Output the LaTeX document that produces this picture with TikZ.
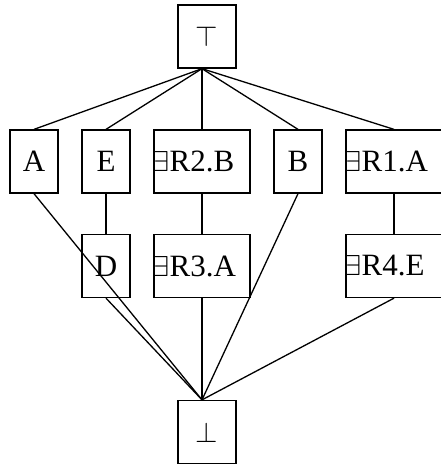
\documentclass[tikz,border=0pt]{standalone}
\usepackage{fontspec}
\setmainfont{Liberation Serif}
\usepackage{tikz}
\usetikzlibrary{positioning}

\tikzset{
  lbox/.style={draw, line width=0.65pt, minimum width=24pt, minimum height=31.5pt, inner sep=0pt},
  wbox/.style={lbox, minimum width=48pt},
  edge/.style={draw, line width=0.65pt}
}

\begin{document}
\begin{tikzpicture}[x=0.5pt,y=-0.5pt,font=\fontsize{15.5}{18}\selectfont]
\useasboundingbox (0,0) rectangle (441,468);
% top and bottom of the lattice
\node[lbox, minimum width=29pt] (top) at (207,36.5) {$\top$};
\node[lbox, minimum width=29pt] (bot) at (207,432) {$\bot$};
\coordinate (tp) at ([xshift=-2.5pt]top.south);
\coordinate (bp) at ([xshift=-2.5pt]bot.north);
% first row
\node[lbox] (a) at (34,161.5) {A};
\node[lbox] (e) at (106,161.5) {E};
\node[wbox] (r2b) at (202,161.5) {};
\node[anchor=west, inner sep=0pt] at (r2b.west) {$\exists$R2.B};
\node[lbox] (b) at (298,161.5) {B};
\node[wbox] (r1a) at (394,161.5) {};
\node[anchor=west, inner sep=0pt] at (r1a.west) {$\exists$R1.A};
% second row
\node[lbox] (d) at (106,266) {D};
\node[wbox] (r3a) at (202,266) {};
\node[anchor=west, inner sep=0pt] at (r3a.west) {$\exists$R3.A};
\node[wbox] (r4e) at (394,266) {};
\node[anchor=west, inner sep=0pt] at (r4e.west) {$\exists$R4.E};
% edges
\foreach \n in {a,e,r2b,b,r1a}
  \path[edge] (tp) -- (\n.north);
\path[edge] (e.south) -- (d.north);
\path[edge] (r2b.south) -- (r3a.north);
\path[edge] (r1a.south) -- (r4e.north);
\foreach \n in {a,d,r3a,b,r4e}
  \path[edge] (\n.south) -- (bp);
\end{tikzpicture}
\end{document}
